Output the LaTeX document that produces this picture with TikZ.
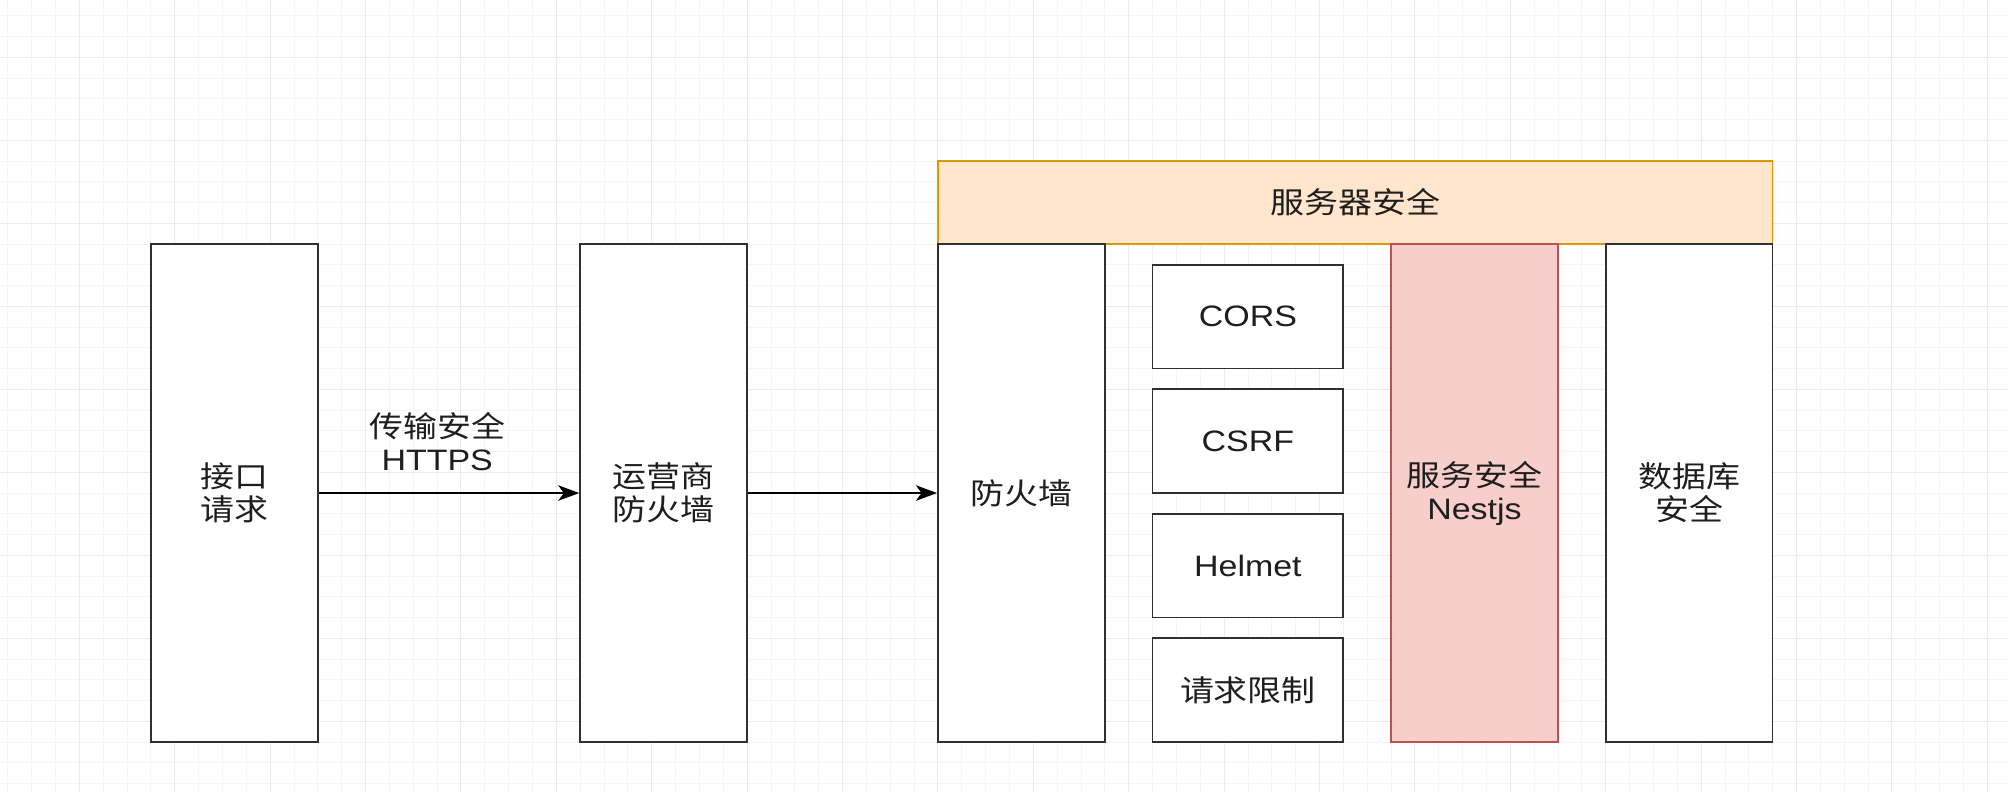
\documentclass[tikz,border=0pt]{standalone}
\usepackage{fontspec}
\setmainfont{Liberation Sans}[FakeStretch=1.15]
\newfontfamily\cjk{Noto Sans CJK SC}[FakeStretch=1.15]
\usepackage{xcolor}
\usepackage{tikz}
\usetikzlibrary{arrows.meta,positioning}
\definecolor{edgegray}{HTML}{303030}
\definecolor{ink}{HTML}{1E1E1E}
\definecolor{orangefill}{HTML}{FFE6CC}
\definecolor{orangeline}{HTML}{D79B00}
\definecolor{redfill}{HTML}{F8CECC}
\definecolor{redline}{HTML}{B85450}
\definecolor{gridminor}{HTML}{F5F5F5}
\definecolor{gridmajor}{HTML}{EBEBEB}

\begin{document}
\begin{tikzpicture}[
    x=0.59625cm, y=0.51875cm,
    col/.style={rectangle,draw=edgegray,line width=1.2pt,fill=white,inner sep=0pt,minimum width=4.174cm,minimum height=12.45cm,align=center,text=ink,font={\cjk\fontsize{21}{23.5}\selectfont}},
    cell/.style={col,minimum width=4.77cm,minimum height=2.594cm,font=\fontsize{21}{23.5}\selectfont},
    edgetext/.style={align=center,text=ink,font=\fontsize{21}{23.5}\selectfont},
    arrow/.style={-{Stealth[length=15pt,width=11pt,inset=4pt]},line width=1.2pt,draw=black}
]
    \useasboundingbox (-3.325,-35.41) rectangle (80.87,2.761);

    % Background grid
    \fill[white] (-3.325,-35.41) rectangle (80.87,2.761);
    \draw[gridminor,line width=0.6pt,step={(1,1)}] (-3.325,-35.41) grid (80.87,2.761);
    \draw[gridmajor,line width=0.7pt,step={(4,4)}] (-3.325,-35.41) grid (80.87,2.761);

    % Client side
    \node[col] (req) at (6.5,-21) {接口\\请求};
    \node[col] (isp) at (24.5,-21) {运营商\\防火墙};
    \draw[arrow] (req) -- (isp) node[pos=0.455,yshift=1.29cm,edgetext] {{\cjk 传输安全}\\HTTPS};

    % Server side
    \node[col,fill=orangefill,draw=orangeline,minimum width=20.87cm,minimum height=2.075cm] (server) at (53.5,-7) {服务器安全};
    \node[col] (fw) at (39.5,-21) {防火墙};
    \draw[arrow] (isp) -- (fw);

    % Middleware
    \node[cell] (cors) at (49,-12.5) {CORS};
    \node[cell] (csrf) at (49,-18.5) {CSRF};
    \node[cell] (helmet) at (49,-24.5) {Helmet};
    \node[cell] (limit) at (49,-30.5) {{\cjk 请求限制}};

    % Service and database
    \node[col,fill=redfill,draw=redline] (nest) at (58.5,-21) {服务安全\\{\fontspec{Liberation Sans}[FakeStretch=1.15]Nestjs}};
    \node[col] (db) at (67.5,-21) {数据库\\安全};
\end{tikzpicture}
\end{document}
